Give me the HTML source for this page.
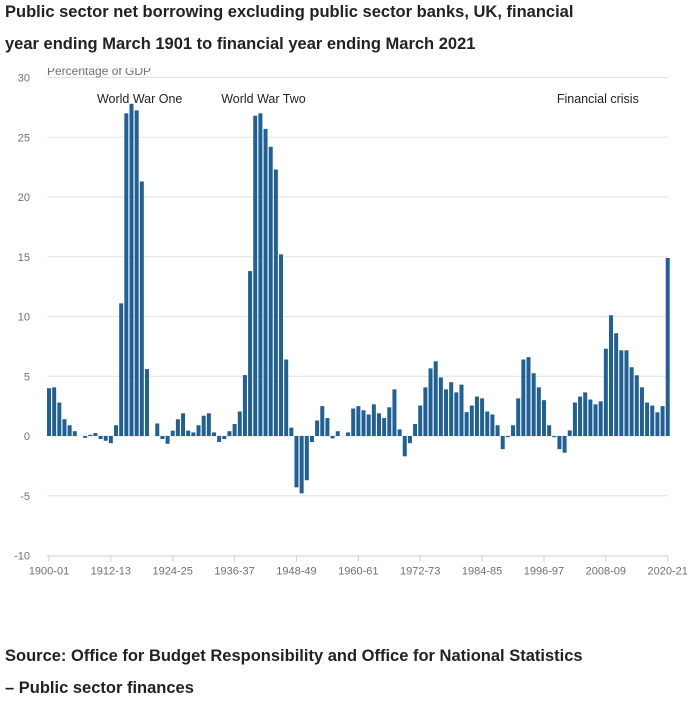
<!DOCTYPE html>
<html><head><meta charset="utf-8"><style>
body{margin:0;background:#fff;font-family:"Liberation Sans",sans-serif;}
.t{position:absolute;left:5px;font-weight:bold;font-size:16.5px;color:#222;white-space:nowrap;}
</style></head><body>
<div style="position:relative;width:692px;height:703px;overflow:hidden">
<div class="t" style="top:3px">Public sector net borrowing excluding public sector banks, UK, financial</div>
<div class="t" style="top:35px">year ending March 1901 to financial year ending March 2021</div>
<svg id="c" width="692" height="600" style="position:absolute;left:0;top:0"></svg>
<div class="t" style="top:647px">Source: Office for Budget Responsibility and Office for National Statistics</div>
<div class="t" style="top:679px">– Public sector finances</div>
</div>
<script>
const startYear = 1900;
const values = [4.0,4.07,2.8,1.4,0.9,0.4,0,-0.15,0.1,0.25,-0.25,-0.4,-0.6,0.9,11.1,27.0,27.8,27.25,21.3,5.6,
0,1.05,-0.25,-0.65,0.45,1.4,1.9,0.45,0.3,0.9,1.7,1.9,0.3,-0.5,-0.25,0.4,1.0,2.05,5.1,13.8,
26.8,27.0,25.7,24.2,22.3,15.2,6.4,0.7,-4.3,-4.8,-3.7,-0.5,1.3,2.5,1.5,-0.2,0.4,0,0.3,2.3,
2.5,2.15,1.8,2.65,1.9,1.5,2.4,3.9,0.55,-1.7,-0.6,1.0,2.55,4.07,5.66,6.25,4.9,3.9,4.5,3.65,
4.3,2.0,2.55,3.3,3.15,2.05,1.8,0.9,-1.1,-0.1,0.9,3.15,6.4,6.6,5.25,4.07,3.0,0.9,-0.1,-1.1,
-1.4,0.47,2.8,3.3,3.65,3.05,2.65,2.9,7.3,10.1,8.6,7.17,7.17,5.75,5.08,4.07,2.8,2.55,1.98,2.5,14.9];
const yTicks = [30,25,20,15,10,5,0,-5,-10];
const xTickLabels = ["1900-01","1912-13","1924-25","1936-37","1948-49","1960-61","1972-73","1984-85","1996-97","2008-09","2020-21"];
const xTickIndex = [0,12,24,36,48,60,72,84,96,108,120];
const annotations = ["World War One","World War Two","Financial crisis"];
const annotationIndex = [9.3,33.4,98.5];

const NS="http://www.w3.org/2000/svg", svg=document.getElementById('c');
const x0=49, step=5.156, yTop=77.5, yBot=555.5, yMax=30, yMin=-10;
const y=v=>yTop+(yMax-v)*(yBot-yTop)/(yMax-yMin);
const x=i=>x0+i*step;
function mk(tag,attrs,txt){const e=document.createElementNS(NS,tag);for(const k in attrs)e.setAttribute(k,attrs[k]);if(txt!==undefined)e.textContent=txt;svg.appendChild(e);return e;}
yTicks.forEach(t=>{
  if(t!==yMin){const g=mk('line',{x1:47,x2:668,y1:y(t),y2:y(t),stroke:'#e2e2e2','stroke-width':1});
  
  }
  const l=mk('text',{x:30,y:y(t)+4,'text-anchor':'end','font-size':11,fill:'#707070'},String(t));
  
  
});
const yl=mk('text',{x:47,y:75,'font-size':12,fill:'#707070'},'Percentage of GDP');


const cover=mk('rect',{x:40,y:60,width:120,height:8,fill:'#fff'});


values.forEach((v,i)=>{
  const r=mk('rect',{x:x(i)-2,width:4,y:Math.min(y(v),y(0)),height:Math.abs(y(v)-y(0)),fill:'#206095'});
  
  
});
const ax=mk('line',{x1:47,x2:668,y1:yBot+0.5,y2:yBot+0.5,stroke:'#c6d0e0','stroke-width':1});


xTickLabels.forEach((lab,k)=>{
  const tx=x(xTickIndex[k]);
  const tk=mk('line',{x1:tx,x2:tx,y1:yBot,y2:yBot+6,stroke:'#c6d0e0'});
  
  
  const tl=mk('text',{x:tx,y:yBot+19,'text-anchor':'middle','font-size':11,fill:'#707070'},lab);
  
  
});
annotations.forEach((a,k)=>{
  const t=mk('text',{x:x(annotationIndex[k]),y:103,'text-anchor':'start','font-size':12.5,fill:'#222'},a);
  
  
});
</script>
</body></html>
